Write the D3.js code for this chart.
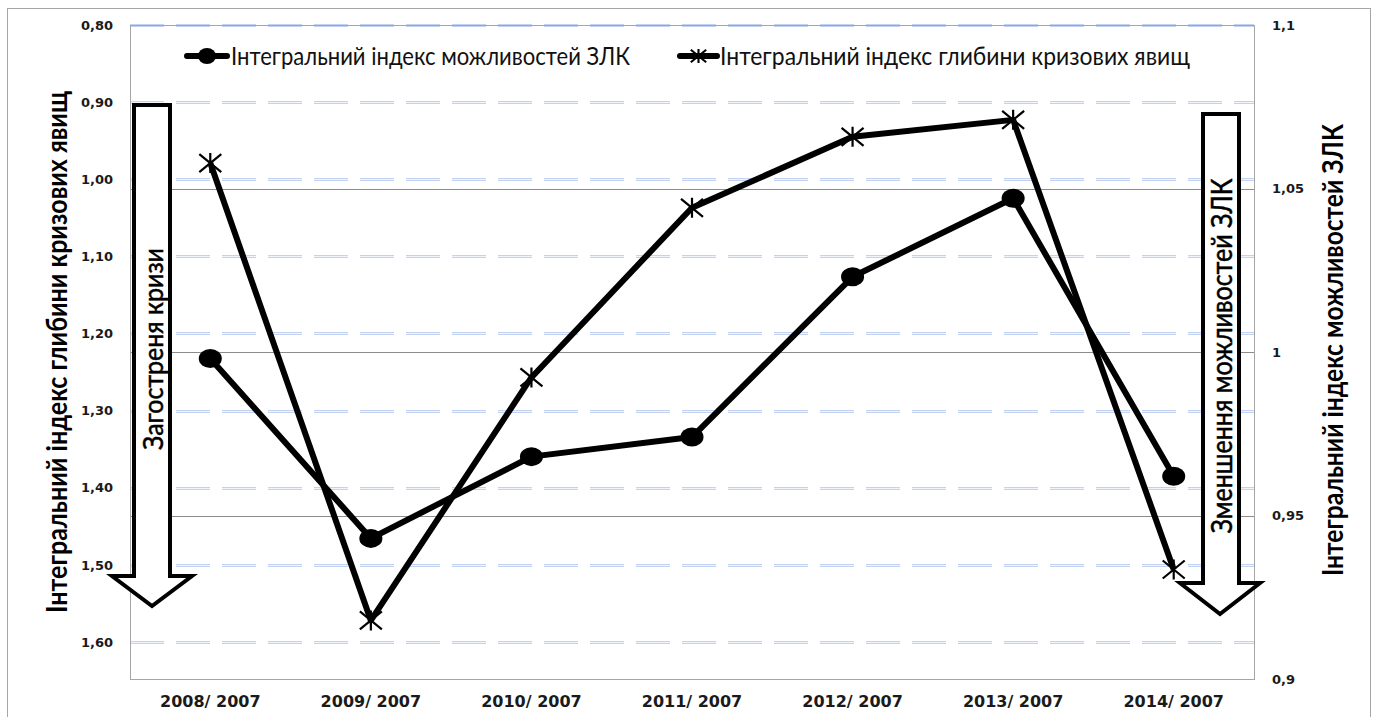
<!DOCTYPE html>
<html>
<head>
<meta charset="utf-8">
<script src="https://cdn.jsdelivr.net/npm/d3@7"></script>
<style>
  body { margin: 0; background: #fff; }
  .tick text { fill: #1a1a1a; }
</style>
</head>
<body>
<div class="svg-container"></div>
<script>
// chart data
const categories = ['2008/ 2007', '2009/ 2007', '2010/ 2007', '2011/ 2007', '2012/ 2007', '2013/ 2007', '2014/ 2007'];
// right axis - circles
const opportunityIndex = [0.998, 0.943, 0.968, 0.974, 1.023, 1.047, 0.962];
// left axis (inverted) - stars
const crisisDepthIndex = [0.979, 1.572, 1.257, 1.037, 0.945, 0.923, 1.506];

const leftTicks = [0.8, 0.9, 1.0, 1.1, 1.2, 1.3, 1.4, 1.5, 1.6];
const rightTicks = [0.9, 0.95, 1.0, 1.05, 1.1];

const legendNames = ['Інтегральний індекс можливостей ЗЛК', 'Інтегральний індекс глибини кризових явищ'];
const leftTitle = 'Інтегральний індекс глибини кризових явищ';
const rightTitle = 'Інтегральний індекс можливостей ЗЛК';
const leftArrowText = 'Загостреня кризи';
const rightArrowText = 'Зменшення можливостей ЗЛК';

const W = 1375, H = 717;
const margin = {top: 25, right: 121, bottom: 38, left: 130};
const x0 = margin.left, x1 = W - margin.right;
const y0 = margin.top, y1 = H - margin.bottom;
const uiFont = 'Lato, Roboto, "Noto Sans", sans-serif';

const comma = d3.formatLocale({decimal: ',', thousands: ' ', grouping: [3], currency: ['', '']});
const fmtLeft = comma.format('.2f');
const fmtRight = comma.format('~g');

const svg = d3.select('.svg-container').append('svg')
  .attr('width', W).attr('height', H);

// outer frame
svg.append('rect')
  .attr('x', 7.5).attr('y', 8.5).attr('width', 1363).attr('height', 730)
  .attr('fill', '#fff').attr('stroke', '#a6a6a6');

const xScale = d3.scaleBand().domain(categories).range([x0, x1]).padding(0);
const xc = d => xScale(d) + xScale.bandwidth() / 2;
const yLeft = d3.scaleLinear().domain([0.8, 1.648]).range([y0, y1]);
const yRight = d3.scaleLinear().domain([0.9, 1.1]).range([y1, y0]);

// dashed double gridlines (left axis)
const grid = svg.append('g').attr('class', 'grid');
grid.selectAll('.gl-out').data(leftTicks).enter().append('line')
  .attr('x1', x0).attr('x2', x1)
  .attr('y1', d => Math.round(yLeft(d)) + 0.5).attr('y2', d => Math.round(yLeft(d)) + 0.5)
  .attr('stroke', '#c3d2f0').attr('stroke-width', 3).attr('stroke-dasharray', '34,12');
grid.selectAll('.gl-in').data(leftTicks).enter().append('line')
  .attr('x1', x0).attr('x2', x1)
  .attr('y1', d => Math.round(yLeft(d)) + 0.5).attr('y2', d => Math.round(yLeft(d)) + 0.5)
  .attr('stroke', '#f0f4fc').attr('stroke-width', 1).attr('stroke-dasharray', '34,12');
// solid gridlines (right axis)
grid.selectAll('.gr').data(rightTicks.slice(1, -1)).enter().append('line')
  .attr('x1', x0).attr('x2', x1)
  .attr('y1', d => Math.round(yRight(d)) + 0.5).attr('y2', d => Math.round(yRight(d)) + 0.5)
  .attr('stroke', '#8c8c8c').attr('stroke-width', 1);

// plot border
svg.append('rect')
  .attr('x', x0 + 0.5).attr('y', y0 + 0.5).attr('width', x1 - x0).attr('height', y1 - y0)
  .attr('fill', 'none').attr('stroke', '#a6a6a6');

// block arrows
function arrowPath(l, r, top, neck, hl, hr, tip) {
  const cx = (hl + hr) / 2;
  return `M${l},${top} L${r},${top} L${r},${neck} L${hr},${neck} L${cx},${tip} L${hl},${neck} L${l},${neck} Z`;
}
svg.append('path')
  .attr('d', arrowPath(134, 170, 105, 576, 112, 192, 606))
  .attr('fill', '#fff').attr('stroke', '#000').attr('stroke-width', 4).attr('stroke-linejoin', 'miter');
svg.append('path')
  .attr('d', arrowPath(1203, 1239, 114, 583, 1180, 1260, 614))
  .attr('fill', '#fff').attr('stroke', '#000').attr('stroke-width', 4).attr('stroke-linejoin', 'miter');

function vText(bx, cy, txt, size, weight, len, sw) {
  svg.append('text')
    .attr('transform', `translate(${bx},${cy}) rotate(-90)`)
    .attr('text-anchor', 'middle')
    .attr('font-family', uiFont).attr('font-size', size).attr('font-weight', weight)
    .attr('fill', '#000').attr('stroke', '#000').attr('stroke-width', sw)
    .attr('textLength', len).attr('lengthAdjust', 'spacingAndGlyphs')
    .text(txt);
}
vText(163, 349, leftArrowText, 26, 'normal', 202, 0.5);
vText(1232, 356, rightArrowText, 28, 'normal', 355, 0.5);
vText(67, 352, leftTitle, 28, 'bold', 522, 0);
vText(1343, 350, rightTitle, 28, 'bold', 452, 0);

// series
const lineOpp = d3.line().x((d, i) => xc(categories[i])).y(d => yRight(d));
const lineCrisis = d3.line().x((d, i) => xc(categories[i])).y(d => yLeft(d));

svg.append('path').datum(opportunityIndex)
  .attr('d', lineOpp).attr('fill', 'none').attr('stroke', '#000')
  .attr('stroke-width', 6).attr('stroke-linejoin', 'round');
svg.append('path').datum(crisisDepthIndex)
  .attr('d', lineCrisis).attr('fill', 'none').attr('stroke', '#000')
  .attr('stroke-width', 6).attr('stroke-linejoin', 'round');

const starPath = 'M-11,-9L11,9M-11,9L11,-9M0,-10L0,10';

svg.append('g').selectAll('ellipse').data(opportunityIndex).enter().append('ellipse')
  .attr('cx', (d, i) => xc(categories[i])).attr('cy', d => yRight(d))
  .attr('rx', 11.5).attr('ry', 9.5).attr('fill', '#000');

svg.append('g').selectAll('path').data(crisisDepthIndex).enter().append('path')
  .attr('transform', (d, i) => `translate(${xc(categories[i])},${yLeft(d)})`)
  .attr('d', starPath).attr('stroke', '#000').attr('stroke-width', 2.2).attr('fill', 'none');

// axes
const axL = svg.append('g').attr('transform', `translate(${x0},0)`)
  .call(d3.axisLeft(yLeft).tickValues(leftTicks).tickFormat(fmtLeft).tickSize(0).tickPadding(17));
const axR = svg.append('g').attr('transform', `translate(${x1},0)`)
  .call(d3.axisRight(yRight).tickValues(rightTicks).tickFormat(fmtRight).tickSize(0).tickPadding(18));
const axB = svg.append('g').attr('transform', `translate(0,${y1})`)
  .call(d3.axisBottom(xScale).tickSize(0).tickPadding(17));
[axL, axR, axB].forEach(a => {
  a.select('.domain').remove();
  a.selectAll('text').attr('font-family', '"DejaVu Sans", Verdana, sans-serif').attr('font-weight', 'bold');
});
axL.selectAll('text').attr('font-size', 13);
axR.selectAll('text').attr('font-size', 13);
axB.selectAll('text').attr('font-size', 16);

// legend
const legend = svg.append('g').attr('class', 'legend');
const legendY = 56;
const legendItems = [
  {x: 187, x2: 227, text: legendNames[0], tx: 231, len: 399, marker: 'circle'},
  {x: 680, x2: 717, text: legendNames[1], tx: 720, len: 470, marker: 'star'}
];
legendItems.forEach(it => {
  legend.append('line')
    .attr('x1', it.x).attr('x2', it.x2).attr('y1', legendY).attr('y2', legendY)
    .attr('stroke', '#000').attr('stroke-width', 6).attr('stroke-linecap', 'round');
  const mx = (it.x + it.x2) / 2;
  if (it.marker === 'circle') {
    legend.append('ellipse').attr('cx', mx).attr('cy', legendY).attr('rx', 9).attr('ry', 8).attr('fill', '#000');
  } else {
    legend.append('path').attr('transform', `translate(${mx},${legendY}) scale(0.7)`)
      .attr('d', starPath).attr('stroke', '#000').attr('stroke-width', 3).attr('fill', 'none');
  }
  legend.append('text')
    .attr('x', it.tx).attr('y', legendY + 9)
    .attr('font-family', uiFont).attr('font-size', 25).attr('fill', '#111')
    .attr('textLength', it.len).attr('lengthAdjust', 'spacingAndGlyphs')
    .text(it.text);
});
</script>
</body>
</html>
